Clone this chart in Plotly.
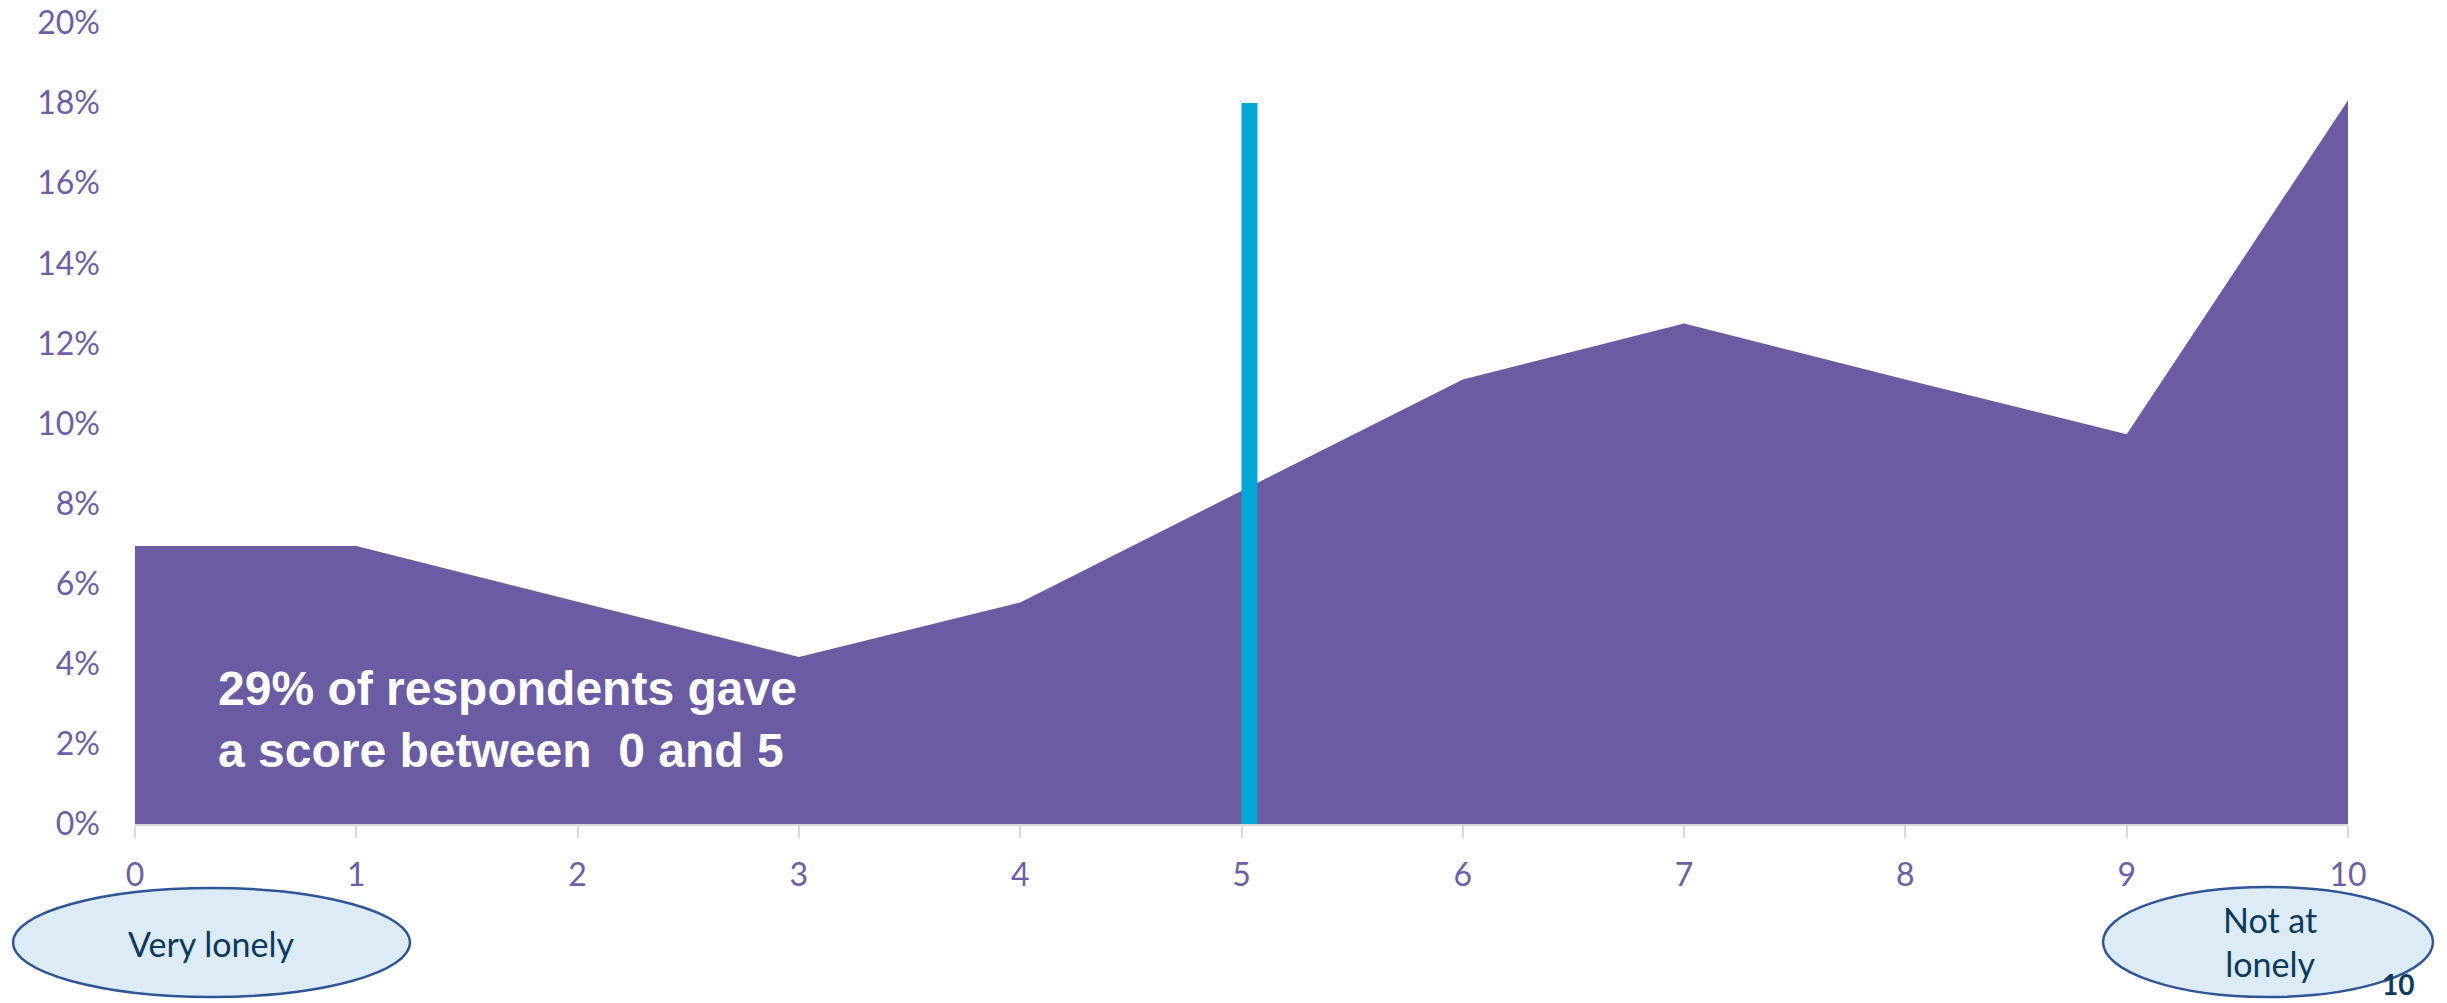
import plotly.graph_objects as go

# ---- data ----
scores = [0, 1, 2, 3, 4, 5, 6, 7, 8, 9, 10]
share = [0.0694, 0.0694, 0.0555, 0.0417, 0.0553, 0.0832, 0.1110, 0.1250, 0.1110, 0.0973, 0.1807]
divider_score = 5.036
divider_top = 0.18
y_ticks = [0, 0.02, 0.04, 0.06, 0.08, 0.10, 0.12, 0.14, 0.16, 0.18, 0.20]
y_tick_labels = ["0%", "2%", "4%", "6%", "8%", "10%", "12%", "14%", "16%", "18%", "20%"]
note_text = "29% of respondents gave<br>a score between  0 and 5"
left_label = "Very lonely"
right_label = "Not at<br>lonely"
page_number = "10"

W, H = 2447, 1003
L, R, T, B = 135, 99, 23, 179
PW, PH = W - L - R, H - T - B

def px(x):
    return (x - L) / PW

def py(y):
    return (H - B - y) / PH

PURPLE = "#6A5BA3"
TICK_PURPLE = "#6D5EA8"
BLUE = "#00A8D8"

fig = go.Figure()
fig.add_trace(go.Scatter(
    x=scores, y=share, mode="lines", fill="tozeroy",
    line=dict(width=0, color=PURPLE), fillcolor=PURPLE,
    hoverinfo="skip", showlegend=False,
))
fig.add_trace(go.Scatter(
    x=[divider_score, divider_score], y=[0, divider_top], mode="lines",
    line=dict(width=16, color=BLUE), hoverinfo="skip", showlegend=False,
))

fig.update_layout(
    width=W, height=H,
    margin=dict(l=L, r=R, t=T, b=B, autoexpand=False),
    paper_bgcolor="white", plot_bgcolor="white",
    xaxis=dict(
        range=[0, 10], tickmode="array", tickvals=scores,
        ticktext=[str(s) for s in scores],
        showgrid=False, zeroline=False, automargin=False,
        showline=True, linecolor="#D9D9D9", linewidth=2,
        ticks="outside", ticklen=12, tickcolor="#D9D9D9", tickwidth=2,
        tickfont=dict(family="Lato", size=32, color=TICK_PURPLE),
        ticklabelstandoff=10,
    ),
    yaxis=dict(
        range=[0, 0.20], tickmode="array", tickvals=y_ticks, ticktext=y_tick_labels,
        showgrid=False, zeroline=False, showline=False, automargin=False,
        tickfont=dict(family="Lato", size=32, color=TICK_PURPLE),
        ticklabelstandoff=34,
    ),
    shapes=[
        dict(type="circle", xref="paper", yref="paper",
             x0=px(13), x1=px(410), y0=py(997), y1=py(888),
             fillcolor="#DDEBF7", line=dict(color="#2F5597", width=2.5), layer="above"),
        dict(type="circle", xref="paper", yref="paper",
             x0=px(2103), x1=px(2433), y0=py(997), y1=py(887),
             fillcolor="#DDEBF7", line=dict(color="#2F5597", width=2.5), layer="above"),
    ],
    annotations=[
        dict(text=note_text, xref="paper", yref="paper", x=px(216), y=py(719),
             xanchor="left", yanchor="middle", align="left", showarrow=False,
             font=dict(family="Liberation Sans", size=48, color="white", weight="bold")),
        dict(text=left_label, xref="paper", yref="paper", x=px(211), y=py(944),
             xanchor="center", yanchor="middle", showarrow=False,
             font=dict(family="Lato", size=34, color="#0B3B5C")),
        dict(text=right_label, xref="paper", yref="paper", x=px(2270), y=py(942),
             xanchor="center", yanchor="middle", showarrow=False,
             font=dict(family="Lato", size=34, color="#0B3B5C")),
        dict(text="<b>" + page_number + "</b>", xref="paper", yref="paper", x=px(2398), y=py(1002),
             xanchor="center", yanchor="bottom", showarrow=False, borderpad=0,
             font=dict(family="Lato", size=28, color="#0B3B5C")),
    ],
)

fig.write_html("out.html")
